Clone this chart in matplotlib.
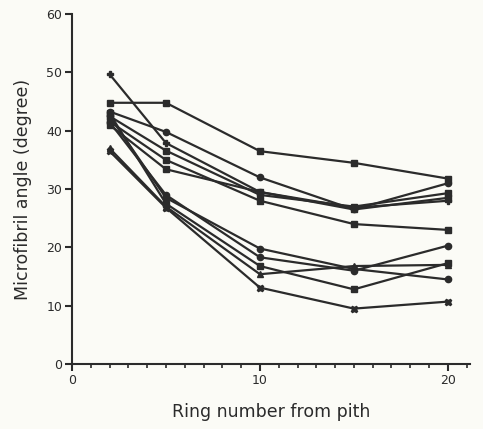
import matplotlib
matplotlib.use("Agg")
import matplotlib.pyplot as plt
from matplotlib.ticker import MultipleLocator

rings = [2, 5, 10, 15, 20]

# upper group
u1 = [44.8, 44.8, 36.5, 34.5, 31.8]
u2 = [49.7, 37.9, 29.5, 26.8, 28.0]
u3 = [43.3, 39.8, 32.0, 26.5, 31.0]
u4 = [42.5, 36.6, 29.0, 27.0, 29.3]
u5 = [41.6, 35.0, 28.0, 24.0, 23.0]
u6 = [41.0, 33.4, 29.5, 26.5, 28.5]
# lower group
l1 = [42.5, 28.5, 19.8, 16.3, 14.5]
l2 = [41.5, 29.0, 18.3, 16.0, 20.3]
l3 = [43.0, 27.5, 16.8, 12.8, 17.3]
l4 = [37.0, 27.0, 15.4, 16.8, 17.0]
l5 = [36.5, 26.8, 13.1, 9.5, 10.7]

series = [u1, u2, u3, u4, u5, u6, l1, l2, l3, l4, l5]
markers = ['s', 'P', 'o', 's', 's', 's', 'o', 'o', 's', '^', 'X']

bg = '#fbfbf6'
ink = '#2b2b2b'
fig = plt.figure(figsize=(4.83, 4.29), dpi=100, facecolor=bg)
ax = fig.add_axes([0.149, 0.1515, 0.825, 0.8155], facecolor=bg)

for vals, m in zip(series, markers):
    ax.plot(rings, vals, color=ink, lw=1.6, marker=m, ms=4.5,
            mfc=ink, mec=ink)

ax.set_xlim(0, 21.2)
ax.set_ylim(0, 60)
ax.xaxis.set_major_locator(MultipleLocator(10))
ax.xaxis.set_minor_locator(MultipleLocator(1))
ax.yaxis.set_major_locator(MultipleLocator(10))
for s in ['top', 'right']:
    ax.spines[s].set_visible(False)
for s in ['left', 'bottom']:
    ax.spines[s].set_linewidth(1.5)
    ax.spines[s].set_color(ink)
ax.tick_params(axis='both', which='major', direction='out', length=5,
               width=1.5, color=ink, labelsize=9, labelcolor=ink, pad=2)
ax.tick_params(axis='x', which='minor', direction='out', length=3,
               width=1.2, color=ink)
ax.set_xlabel('Ring number from pith', fontsize=12.5, color=ink, labelpad=12)
ax.set_ylabel('Microfibril angle (degree)', fontsize=12.5, color=ink, labelpad=10)

fig.savefig('out.png', dpi=100, facecolor=bg)
